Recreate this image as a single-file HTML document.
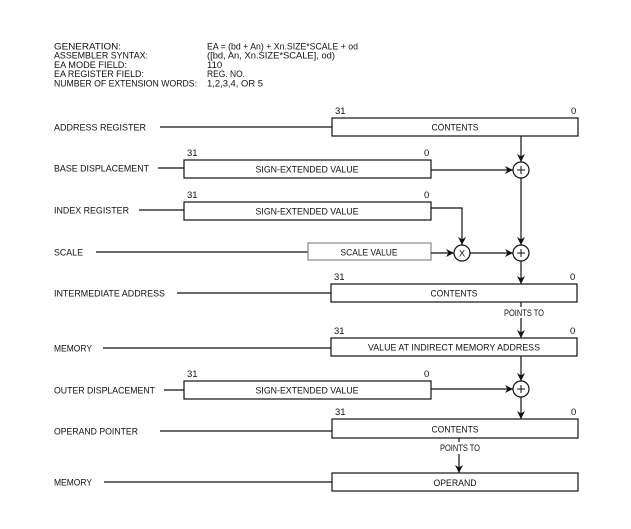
<!DOCTYPE html>
<html><head><meta charset="utf-8"><style>
html,body{margin:0;padding:0;background:#fff;}
svg{display:block;}
text{font-family:"Liberation Sans",Arial,sans-serif;font-size:9.5px;fill:#111;}
</style></head><body>
<svg width="631" height="529" viewBox="0 0 631 529" xmlns="http://www.w3.org/2000/svg">
<defs>
<marker id="ah" viewBox="0 0 10 10" refX="10" refY="5" markerWidth="8" markerHeight="8" orient="auto" markerUnits="userSpaceOnUse">
<path d="M0,0 L10,5 L0,10 L3,5 z" fill="#111"/>
</marker>
</defs>
<g>
<text x="54" y="49.5" textLength="67" lengthAdjust="spacingAndGlyphs">GENERATION:</text>
<text x="54" y="58.5" textLength="94" lengthAdjust="spacingAndGlyphs">ASSEMBLER SYNTAX:</text>
<text x="54" y="68" textLength="73" lengthAdjust="spacingAndGlyphs">EA MODE FIELD:</text>
<text x="54" y="77" textLength="90" lengthAdjust="spacingAndGlyphs">EA REGISTER FIELD:</text>
<text x="54" y="86.5" textLength="143" lengthAdjust="spacingAndGlyphs">NUMBER OF EXTENSION WORDS:</text>
<text x="207" y="49.5" textLength="151" lengthAdjust="spacingAndGlyphs">EA = (bd + An) + Xn.SIZE*SCALE + od</text>
<text x="207" y="58.5" textLength="128" lengthAdjust="spacingAndGlyphs">([bd, An, Xn.SIZE*SCALE], od)</text>
<text x="207" y="68">110</text>
<text x="207" y="77" textLength="38" lengthAdjust="spacingAndGlyphs">REG. NO.</text>
<text x="207" y="86.5" textLength="56" lengthAdjust="spacingAndGlyphs">1,2,3,4, OR 5</text>
</g>
<g stroke="#111" stroke-width="1.2" fill="none">
<!-- row lines -->
<line x1="160" y1="127" x2="332" y2="127"/>
<line x1="158" y1="168" x2="184" y2="168"/>
<line x1="139" y1="210" x2="184" y2="210"/>
<line x1="96" y1="252" x2="308" y2="252"/>
<line x1="177" y1="293" x2="331" y2="293"/>
<line x1="103" y1="348" x2="331" y2="348"/>
<line x1="164" y1="390" x2="184" y2="390"/>
<line x1="160" y1="431" x2="332" y2="431"/>
<line x1="104" y1="482" x2="332" y2="482"/>
<!-- boxes -->
<rect x="332" y="118" width="246" height="18"/>
<rect x="184" y="160" width="247" height="18"/>
<rect x="184" y="202" width="247" height="18"/>
<rect x="308" y="243" width="123" height="17" stroke="#888"/>
<rect x="331" y="284" width="246" height="18"/>
<rect x="331" y="338" width="246" height="18"/>
<rect x="184" y="381" width="247" height="18"/>
<rect x="332" y="419" width="246" height="19"/>
<rect x="332" y="473" width="246" height="18"/>
<!-- circles -->
<circle cx="521" cy="170" r="8"/>
<circle cx="462" cy="253" r="8"/>
<circle cx="521" cy="253" r="8"/>
<circle cx="521" cy="389" r="8"/>
<!-- connectors -->
<line x1="521" y1="136" x2="521" y2="162" marker-end="url(#ah)"/>
<line x1="431" y1="170" x2="513" y2="170" marker-end="url(#ah)"/>
<line x1="521" y1="178" x2="521" y2="245" marker-end="url(#ah)"/>
<polyline points="431,208 462,208 462,245" marker-end="url(#ah)"/>
<line x1="431" y1="253" x2="454" y2="253" marker-end="url(#ah)"/>
<line x1="470" y1="253" x2="513" y2="253" marker-end="url(#ah)"/>
<line x1="521" y1="261" x2="521" y2="284" marker-end="url(#ah)"/>
<line x1="521" y1="302" x2="521" y2="307"/>
<line x1="521" y1="318" x2="521" y2="338" marker-end="url(#ah)"/>
<line x1="521" y1="356" x2="521" y2="381" marker-end="url(#ah)"/>
<line x1="431" y1="389" x2="513" y2="389" marker-end="url(#ah)"/>
<line x1="521" y1="397" x2="521" y2="419" marker-end="url(#ah)"/>
<line x1="459" y1="438" x2="459" y2="442"/>
<line x1="459" y1="454" x2="459" y2="473" marker-end="url(#ah)"/>
</g>
<g stroke="#111" stroke-width="1" fill="none">
<line x1="517" y1="170" x2="525" y2="170"/><line x1="521" y1="166" x2="521" y2="174"/>
<line x1="517" y1="253" x2="525" y2="253"/><line x1="521" y1="249" x2="521" y2="257"/>
<line x1="517" y1="389" x2="525" y2="389"/><line x1="521" y1="385" x2="521" y2="393"/>
</g>
<text x="462" y="256.5" text-anchor="middle">X</text>
<g>
<text x="54" y="130.5" textLength="92" lengthAdjust="spacingAndGlyphs">ADDRESS REGISTER</text>
<text x="54" y="171.5" textLength="95" lengthAdjust="spacingAndGlyphs">BASE DISPLACEMENT</text>
<text x="54" y="213.5" textLength="75" lengthAdjust="spacingAndGlyphs">INDEX REGISTER</text>
<text x="54" y="255.5" textLength="29" lengthAdjust="spacingAndGlyphs">SCALE</text>
<text x="54" y="296.5" textLength="111" lengthAdjust="spacingAndGlyphs">INTERMEDIATE ADDRESS</text>
<text x="54" y="351.5" textLength="38" lengthAdjust="spacingAndGlyphs">MEMORY</text>
<text x="54" y="393.5" textLength="101" lengthAdjust="spacingAndGlyphs">OUTER DISPLACEMENT</text>
<text x="54" y="434.5" textLength="84" lengthAdjust="spacingAndGlyphs">OPERAND POINTER</text>
<text x="54" y="485.5" textLength="38" lengthAdjust="spacingAndGlyphs">MEMORY</text>
</g>
<g text-anchor="middle">
<text x="455" y="130.5" textLength="47" lengthAdjust="spacingAndGlyphs">CONTENTS</text>
<text x="307" y="172.5" textLength="103" lengthAdjust="spacingAndGlyphs">SIGN-EXTENDED VALUE</text>
<text x="307" y="214.5" textLength="103" lengthAdjust="spacingAndGlyphs">SIGN-EXTENDED VALUE</text>
<text x="369" y="255.5" textLength="57" lengthAdjust="spacingAndGlyphs">SCALE VALUE</text>
<text x="454" y="296.5" textLength="47" lengthAdjust="spacingAndGlyphs">CONTENTS</text>
<text x="454" y="350.5" textLength="172" lengthAdjust="spacingAndGlyphs">VALUE AT INDIRECT MEMORY ADDRESS</text>
<text x="307" y="393.5" textLength="103" lengthAdjust="spacingAndGlyphs">SIGN-EXTENDED VALUE</text>
<text x="455" y="432.5" textLength="47" lengthAdjust="spacingAndGlyphs">CONTENTS</text>
<text x="455" y="486" textLength="43" lengthAdjust="spacingAndGlyphs">OPERAND</text>
<text x="524" y="316" font-size="8" textLength="40" lengthAdjust="spacingAndGlyphs">POINTS TO</text>
<text x="460" y="451" font-size="8" textLength="40" lengthAdjust="spacingAndGlyphs">POINTS TO</text>
</g>
<g>
<text x="335" y="114">31</text><text x="571" y="114">0</text>
<text x="187" y="156">31</text><text x="424" y="156">0</text>
<text x="187" y="198">31</text><text x="424" y="198">0</text>
<text x="334" y="280">31</text><text x="570" y="280">0</text>
<text x="334" y="334">31</text><text x="570" y="334">0</text>
<text x="187" y="377">31</text><text x="424" y="377">0</text>
<text x="335" y="415">31</text><text x="571" y="415">0</text>
</g>
</svg>
</body></html>
